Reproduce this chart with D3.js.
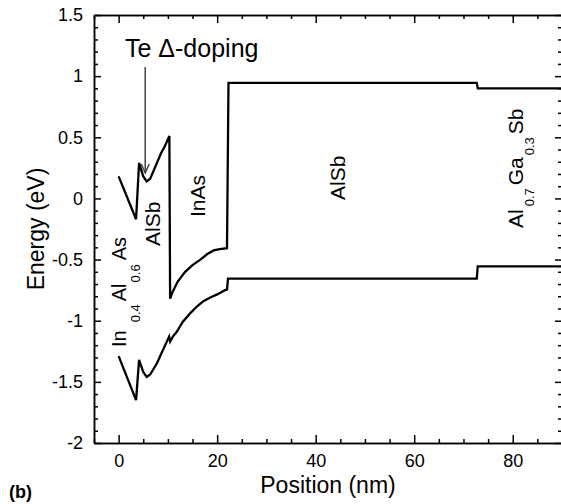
<!DOCTYPE html>
<html>
<head>
<meta charset="utf-8">
<script src="https://cdn.jsdelivr.net/npm/d3@7"></script>
<style>
  html, body { margin: 0; padding: 0; background: #fff; }
  svg { display: block; font-family: "Liberation Sans", Arial, Helvetica, sans-serif; }
</style>
</head>
<body>
<svg id="chart" width="561" height="504"></svg>
<script>
// Band edges across the heterostructure: position (nm) and energy (eV)
const cbPosition = [0, 3.54, 4.15, 5.0, 5.7, 6.4, 8.6, 9.3, 10.3, 10.45, 11.0, 12.0, 13.5, 15.0, 16.6, 18.0, 19.3, 20.5, 22.0, 22.3, 72.7, 72.9, 90];
const cbEnergy   = [0.18, -0.17, 0.29, 0.18, 0.14, 0.16, 0.37, 0.42, 0.51, -0.82, -0.76, -0.68, -0.60, -0.545, -0.50, -0.455, -0.425, -0.415, -0.407, 0.945, 0.945, 0.90, 0.90];

const vbPosition = [0, 3.54, 4.15, 5.0, 5.7, 6.4, 7.75, 9.0, 10.25, 10.45, 11.0, 11.8, 13.0, 14.5, 16.0, 17.2, 18.6, 20.0, 21.6, 22.0, 22.2, 72.7, 72.9, 90];
const vbEnergy   = [-1.29, -1.65, -1.32, -1.42, -1.46, -1.44, -1.35, -1.24, -1.13, -1.17, -1.13, -1.09, -1.01, -0.94, -0.88, -0.84, -0.81, -0.785, -0.75, -0.745, -0.655, -0.655, -0.555, -0.555];

// Axis ticks
const xMajorTicks = [0, 20, 40, 60, 80];
const xMinorTicks = d3.range(-5, 91, 5).filter(v => v % 20 !== 0);
const yMajorTicks = [-2, -1.5, -1, -0.5, 0, 0.5, 1, 1.5];
const yMinorTicks = d3.range(-20, 16, 1).map(v => v / 10).filter(v => Math.abs(v * 2 - Math.round(v * 2)) > 1e-6);

// Delta-doping marker position
const dopingPosition = 5.4;

const svg = d3.select("#chart");
const x = d3.scaleLinear().domain([-5, 90]).range([94, 562]);
const y = d3.scaleLinear().domain([-2, 1.5]).range([443, 15]);

const fmt = d => String(d);
const tickFont = "18px";

function styleAxis(g) {
  g.selectAll("path, line").attr("stroke", "#000").attr("stroke-width", 1.5);
  g.selectAll("text").attr("font-size", tickFont).attr("fill", "#000")
    .attr("font-family", "'Liberation Sans', Arial, sans-serif");
}

// bottom
svg.append("g").attr("transform", `translate(0,${y(-2)})`)
  .call(d3.axisBottom(x).tickValues(xMajorTicks).tickFormat(fmt).tickSizeInner(-8).tickSizeOuter(0).tickPadding(11))
  .call(styleAxis);
svg.append("g").attr("transform", `translate(0,${y(-2)})`)
  .call(d3.axisBottom(x).tickValues(xMinorTicks).tickFormat("").tickSizeInner(-4).tickSizeOuter(0))
  .call(styleAxis);
// top
svg.append("g").attr("transform", `translate(0,${y(1.5)})`)
  .call(d3.axisTop(x).tickValues(xMajorTicks).tickFormat("").tickSizeInner(-8).tickSizeOuter(0))
  .call(styleAxis);
svg.append("g").attr("transform", `translate(0,${y(1.5)})`)
  .call(d3.axisTop(x).tickValues(xMinorTicks).tickFormat("").tickSizeInner(-4).tickSizeOuter(0))
  .call(styleAxis);
// left
svg.append("g").attr("transform", `translate(${x(-5)},0)`)
  .call(d3.axisLeft(y).tickValues(yMajorTicks).tickFormat(fmt).tickSizeInner(-7).tickSizeOuter(0).tickPadding(11))
  .call(styleAxis);
svg.append("g").attr("transform", `translate(${x(-5)},0)`)
  .call(d3.axisLeft(y).tickValues(yMinorTicks).tickFormat("").tickSizeInner(-4).tickSizeOuter(0))
  .call(styleAxis);
// right
svg.append("g").attr("transform", `translate(${x(90)},0)`)
  .call(d3.axisRight(y).tickValues(yMajorTicks).tickFormat("").tickSizeInner(-7).tickSizeOuter(0))
  .call(styleAxis);
svg.append("g").attr("transform", `translate(${x(90)},0)`)
  .call(d3.axisRight(y).tickValues(yMinorTicks).tickFormat("").tickSizeInner(-4).tickSizeOuter(0))
  .call(styleAxis);

// band edge curves
const line = d3.line().x(d => x(d[0])).y(d => y(d[1]));
const cb = cbPosition.map((p, i) => [p, cbEnergy[i]]);
const vb = vbPosition.map((p, i) => [p, vbEnergy[i]]);
svg.append("g")
  .selectAll("path").data([cb, vb]).join("path")
  .attr("d", line)
  .attr("fill", "none").attr("stroke", "#000").attr("stroke-width", 2.3)
  .attr("stroke-linejoin", "miter");

// axis titles
svg.append("text").attr("x", (x(-5) + x(90)) / 2).attr("y", 493)
  .attr("text-anchor", "middle").attr("font-size", "23px").text("Position (nm)");
svg.append("text").attr("transform", `translate(44,${(y(-2) + y(1.5)) / 2}) rotate(-90)`)
  .attr("text-anchor", "middle").attr("font-size", "23px").text("Energy (eV)");
svg.append("text").attr("x", 9).attr("y", 498).attr("font-size", "18px")
  .attr("font-weight", "bold").text("(b)");

// doping annotation
svg.append("text").attr("x", 125).attr("y", 57).attr("font-size", "25px").text("Te \u0394-doping");
const ax = x(dopingPosition);
svg.append("line").attr("x1", ax).attr("x2", ax).attr("y1", 67).attr("y2", 173)
  .attr("stroke", "#444").attr("stroke-width", 1.5);
svg.append("path").attr("d", `M${ax - 4},${164} L${ax},${173} L${ax + 4},${164}`)
  .attr("fill", "none").attr("stroke", "#444").attr("stroke-width", 1.5);

// layer labels, rotated; each part: [text, subscript?, gap before]
function layerLabel(bx, yBottom, parts, size, subSize, subShift) {
  const t = svg.append("text")
    .attr("transform", `translate(${bx},${yBottom}) rotate(-90)`)
    .attr("font-size", size);
  let sub = false;
  parts.forEach(([s, isSub, gap]) => {
    const ts = t.append("tspan").text(s).attr("dx", gap || 0);
    if (isSub && !sub) { ts.attr("dy", subShift).attr("font-size", subSize); sub = true; }
    else if (!isSub && sub) { ts.attr("dy", -subShift); sub = false; }
    else if (isSub) ts.attr("font-size", subSize);
  });
}
layerLabel(126, 347, [["In"], ["0.4", true, 8], ["Al", false, 3], ["0.6", true, 1], ["As", false, 4]], "20px", "13px", 14);
layerLabel(160, 246, [["AlSb"]], "21px", "13px", 0);
layerLabel(205, 217, [["InAs"]], "21px", "13px", 0);
layerLabel(345, 200, [["AlSb"]], "21px", "13px", 0);
layerLabel(523, 228, [["Al"], ["0.7", true, 3], ["Ga", false, 3], ["0.3", true, 2], ["Sb", false, 3]], "21px", "13px", 11);
</script>
</body>
</html>
